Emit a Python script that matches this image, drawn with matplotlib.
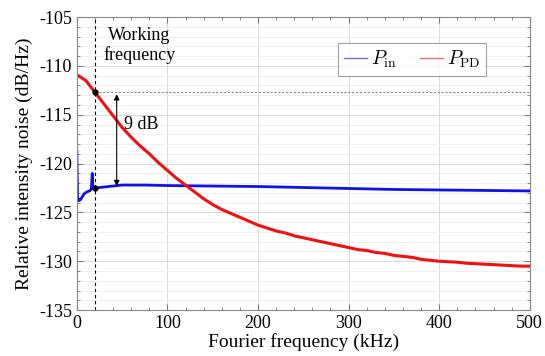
import numpy as np
import matplotlib
matplotlib.use("Agg")
import matplotlib.pyplot as plt
from matplotlib.ticker import MultipleLocator

# (kHz, dB/Hz)
freq_red = [0, 5, 10, 15, 20, 25, 30, 40, 50, 60, 70, 80, 90, 100, 110, 120, 130, 140,
            150, 160, 170, 180, 190, 200, 210, 220, 230, 240, 250, 260, 270, 280, 290,
            300, 310, 320, 330, 340, 350, 360, 370, 380, 390, 400, 410, 420, 430, 440,
            450, 460, 470, 480, 490, 500]
rin_pd = [-110.9, -111.2, -111.5, -112.1, -112.7, -113.3, -113.9, -115.1, -116.3, -117.3,
          -118.2, -119.0, -119.9, -120.7, -121.5, -122.2, -122.9, -123.6, -124.2, -124.7,
          -125.1, -125.5, -125.9, -126.3, -126.6, -126.9, -127.1, -127.4, -127.6, -127.8,
          -128.0, -128.2, -128.4, -128.6, -128.8, -128.9, -129.1, -129.2, -129.4, -129.5,
          -129.6, -129.8, -129.9, -130.0, -130.05, -130.1, -130.2, -130.25, -130.3,
          -130.35, -130.4, -130.45, -130.5, -130.5]

freq_blue = [0, 0.8, 2, 4, 6, 8, 11, 14, 16, 17, 17.8, 20, 30, 40, 50, 75, 100, 150, 200,
             250, 300, 350, 400, 450, 500]
rin_in = [-118.8, -123.4, -123.8, -123.7, -123.4, -123.1, -122.9, -122.8, -122.6, -121.0,
          -122.6, -122.5, -122.4, -122.3, -122.2, -122.2, -122.25, -122.3, -122.35,
          -122.45, -122.55, -122.65, -122.7, -122.75, -122.8]

f_work = 20
level_pd = -112.7
level_in = -122.5

plt.rcParams["font.family"] = "Liberation Serif"
plt.rcParams["mathtext.fontset"] = "cm"
plt.rcParams["axes.unicode_minus"] = False

fig = plt.figure(figsize=(5.45, 3.56), dpi=100)
ax = fig.add_axes([0.141, 0.129, 0.831, 0.823])

ax.plot(freq_blue, rin_in, color="#1010e8", lw=2.0, label=r"$P_{\rm in}$")
ax.plot(freq_red, rin_pd, color="#f01010", lw=2.2, label=r"$P_{\rm PD}$")

ax.axvline(f_work, color="k", lw=0.8, ls=(0, (3, 2.5)))
ax.plot([f_work, 500], [level_pd, level_pd], color="#888888", lw=0.8, ls=(0, (2, 1.5)))
ax.plot([f_work, f_work], [level_pd, level_in], "o", color="k", ms=3.5, zorder=5)
ax.annotate("", xy=(44, level_pd - 0.2), xytext=(44, level_in + 0.2),
            arrowprops=dict(arrowstyle="<|-|>", color="k", lw=0.8,
                            mutation_scale=8, shrinkA=0, shrinkB=0))
ax.text(52, -116, "9 dB", fontsize=13, va="center", ha="left")
ax.text(69, -107.9, "Working\nfrequency", fontsize=13, va="center", ha="center",
        linespacing=1.1)

ax.set_xlim(0, 500)
ax.set_ylim(-135, -105)
ax.xaxis.set_major_locator(MultipleLocator(100))
ax.xaxis.set_minor_locator(MultipleLocator(20))
ax.yaxis.set_major_locator(MultipleLocator(5))
ax.yaxis.set_minor_locator(MultipleLocator(1))
ax.tick_params(which="both", direction="in", top=True, right=True, colors="#777777",
               labelcolor="k", labelsize=13)
ax.tick_params(which="major", length=4)
ax.tick_params(which="minor", length=2)
ax.grid(which="major", color="#d8d8d8", lw=0.7)
ax.grid(which="minor", axis="y", color="#ececec", lw=0.6)
ax.set_axisbelow(True)
for s in ax.spines.values():
    s.set_color("#888888")
    s.set_linewidth(0.8)

ax.set_xlabel("Fourier frequency (kHz)", fontsize=14, labelpad=1)
ax.set_ylabel("Relative intensity noise (dB/Hz)", fontsize=14, labelpad=4)

leg = ax.legend(loc="upper left", bbox_to_anchor=(0.555, 0.944), ncol=2, fontsize=14,
                frameon=True, fancybox=False, edgecolor="#888888", handlelength=1.2,
                handletextpad=0.2, columnspacing=1.2, borderpad=0.3)
leg.get_frame().set_linewidth(0.8)
for h in leg.get_lines():
    h.set_linewidth(1.0)
    h.set_alpha(0.6)

fig.savefig("out.png", dpi=100)
